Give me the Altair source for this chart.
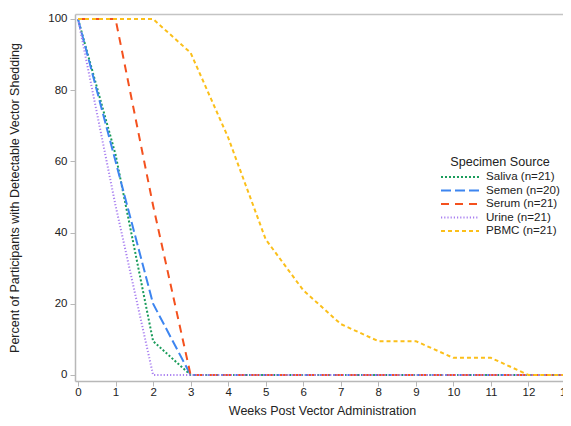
import altair as alt
import pandas as pd

weeks = list(range(0, 14))
saliva = [100, 61.9, 9.5, 0, 0, 0, 0, 0, 0, 0, 0, 0, 0, 0]
semen = [100, 60, 20, 0, 0, 0, 0, 0, 0, 0, 0, 0, 0, 0]
serum = [100, 100, 47.6, 0, 0, 0, 0, 0, 0, 0, 0, 0, 0, 0]
urine = [100, 47.6, 0, 0, 0, 0, 0, 0, 0, 0, 0, 0, 0, 0]
pbmc = [100, 100, 100, 90.5, 66.7, 38.1, 23.8, 14.3, 9.5, 9.5, 4.8, 4.8, 0, 0]

names = ["Saliva (n=21)", "Semen (n=20)", "Serum (n=21)", "Urine (n=21)", "PBMC (n=21)"]
series = [saliva, semen, serum, urine, pbmc]
colors = ["#1a9c5b", "#3d85f0", "#f4511e", "#a87ff0", "#fbbf1a"]
dashes = [[2, 2], [10, 4], [8, 6], [1.2, 2], [4, 3]]
draw_order = [4, 3, 0, 1, 2]

rows = []
for i, (n, s) in enumerate(zip(names, series)):
    for w, v in zip(weeks, s):
        rows.append({"week": w, "pct": v, "src": n, "order": draw_order[i]})
df = pd.DataFrame(rows)

xscale = alt.Scale(domain=[-0.08, 13.08], nice=False, zero=False)
yscale = alt.Scale(domain=[-1.7, 101.4], nice=False, zero=False)
frame_color = "#c4c4c4"

lines = alt.Chart(df).mark_line(strokeWidth=2).encode(
    x=alt.X("week:Q", scale=xscale,
            axis=alt.Axis(values=weeks, title="Weeks Post Vector Administration",
                          grid=False, labelFlush=False, labelPadding=0,
                          titlePadding=7)),
    y=alt.Y("pct:Q", scale=yscale,
            axis=alt.Axis(values=[0, 20, 40, 60, 80, 100],
                          title="Percent of Participants with Detectable Vector Shedding",
                          grid=False, labelPadding=3, titlePadding=26)),
    color=alt.Color("src:N", sort=names,
                    scale=alt.Scale(domain=names, range=colors),
                    legend=alt.Legend(title="Specimen Source", orient="none",
                                      legendX=365, legendY=142,
                                      symbolType="M-1,0L5.91,0", symbolSize=121,
                                      symbolStrokeWidth=2, labelOffset=33,
                                      titleAnchor="middle", titleFontSize=12.6,
                                      titleFontWeight="normal", labelFontSize=11.6,
                                      titleColor="#222", labelColor="#222",
                                      rowPadding=0.5, titlePadding=2)),
    strokeDash=alt.StrokeDash("src:N", sort=names,
                              scale=alt.Scale(domain=names, range=dashes),
                              legend=alt.Legend(title="Specimen Source")),
    detail="src:N",
    order="order:Q",
)

frame = alt.Chart(df).mark_point(opacity=0).encode(
    x=alt.X("week:Q", scale=xscale,
            axis=alt.Axis(orient="top", labels=False, ticks=False, title=None,
                          grid=False, domainColor=frame_color)),
    y=alt.Y("pct:Q", scale=yscale,
            axis=alt.Axis(orient="right", labels=False, ticks=False, title=None,
                          grid=False, domainColor=frame_color)),
)

chart = alt.layer(lines, frame).resolve_axis(
    x="independent", y="independent"
).properties(
    width=494, height=367,
    padding={"left": 67, "top": 6, "right": -6, "bottom": 37},
    autosize=alt.AutoSizeParams(type="none"),
).configure_view(
    stroke=None
).configure_axis(
    domainColor="#b8b8b8", tickColor="#b8b8b8", domainWidth=1.5, tickWidth=1,
    tickSize=5, labelFont="Liberation Sans", titleFont="Liberation Sans",
    labelFontSize=11.5, titleFontSize=12.5, titleFontWeight="normal",
    labelColor="#222", titleColor="#222",
).configure_legend(
    labelFont="Liberation Sans", titleFont="Liberation Sans"
)

chart.save("out.html", embed_options={"renderer": "svg", "actions": False})
